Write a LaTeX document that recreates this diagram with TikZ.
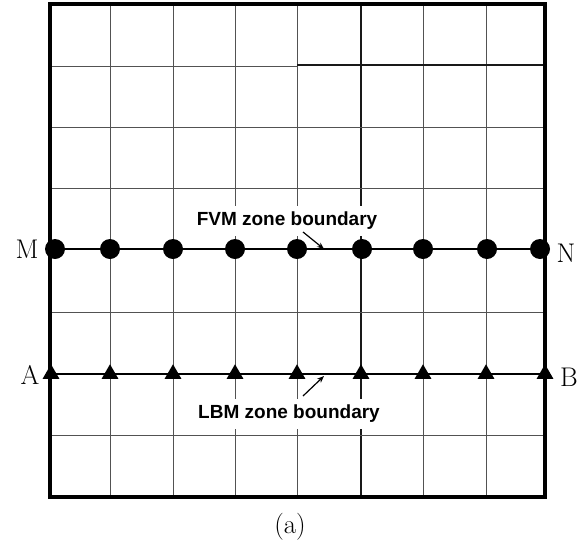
\documentclass[tikz,border=0pt]{standalone}
\usepackage{fontspec}
\newfontfamily\zonefont{Liberation Sans}
\usetikzlibrary{arrows.meta,shapes.geometric}

\tikzset{
  gridline/.style={line width=1pt,black!68},
  darkline/.style={line width=1.1pt,black!90},
  frameline/.style={line width=3.4pt,line cap=rect},
  zoneline/.style={line width=2.8pt},
  fvmdot/.style={circle,fill=black,inner sep=0pt,minimum size=20pt},
  lbmtri/.style={regular polygon,regular polygon sides=3,fill=black,inner sep=0pt,minimum size=19.5pt},
  zonelabel/.style={fill=white,inner xsep=3pt,inner ysep=6pt,font=\zonefont\bfseries\fontsize{19}{22}\selectfont},
  endlabel/.style={inner sep=0pt,font=\fontsize{27}{32}\selectfont},
  pointer/.style={line width=1.2pt,-{Stealth[length=7pt,width=5.5pt]}}
}

\begin{document}
\begin{tikzpicture}[x=1pt,y=-1pt]
  \useasboundingbox (0,0) rectangle (585,549);
  % mesh
  \foreach \x in {110,173,235,297,423,486}
    \draw[gridline] (\x,4)--(\x,497);
  \draw[darkline] (361,4)--(361,497);
  \foreach \y in {127,188,312,435}
    \draw[gridline] (50,\y)--(545,\y);
  \draw[gridline] (50,66)--(297,66);
  \draw[darkline] (297,65)--(545,65);

  \node[zonelabel] (fvm) at (287,221) {FVM zone boundary};
  \node[zonelabel] (lbm) at (289,414) {LBM zone boundary};

  \draw[frameline] (50,4) rectangle (545,497);

  % the two zone boundaries
  \coordinate (mleft) at (50,249);  \coordinate (nright) at (545,249);
  \coordinate (aleft) at (50,374);  \coordinate (bright) at (545,374);
  \draw[zoneline] (mleft)--(nright);
  \draw[zoneline] (aleft)--(bright);

  \foreach \x [count=\k] in {55,110,173,235,297,362,423,487,540}
    \node[fvmdot] (dot\k) at (\x,249) {};
  \foreach \x [count=\k] in {51,110,173,235,297,361,423,486,545}
    \node[lbmtri] (tri\k) at (\x,374) {};

  \coordinate (fvmtail) at (303,232); \coordinate (fvmtip) at (324,249);
  \coordinate (lbmtail) at (303,396); \coordinate (lbmtip) at (324,376);
  \draw[pointer] (fvmtail)--(fvmtip);
  \draw[pointer] (lbmtail)--(lbmtip);

  \node[endlabel] (M) at (27,249) {M};
  \node[endlabel] (N) at (566,253) {N};
  \node[endlabel] (A) at (30,375) {A};
  \node[endlabel] (B) at (569,377) {B};
  \node[endlabel] (cap) at (290,527) {(a)};
\end{tikzpicture}
\end{document}
